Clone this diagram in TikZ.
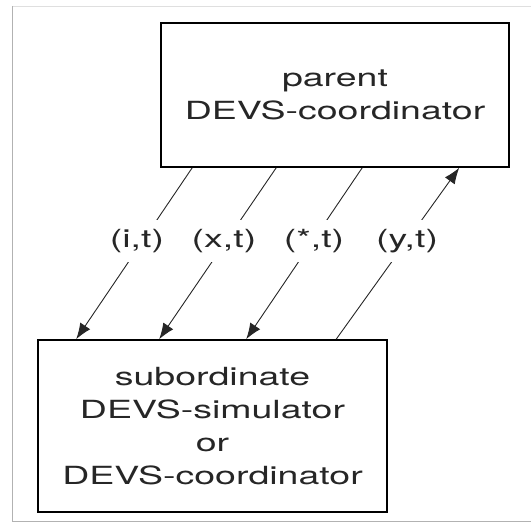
\documentclass[tikz,border=0pt]{standalone}
\usepackage{fontspec}
\newfontfamily\widefont[FakeStretch=1.5]{TeX Gyre Heros}
\usetikzlibrary{arrows.meta}
\definecolor{ink}{HTML}{262626}
\tikzset{
  boxnode/.style={draw=black, line width=1.6pt, rectangle, align=center, text=ink,
    font=\widefont\fontsize{25}{33}\selectfont, inner sep=0pt},
  msg/.style={fill=white, text=ink, inner xsep=1pt, inner ysep=9pt,
    font=\widefont\fontsize{25}{28}\selectfont},
  conn/.style={draw=ink, line width=0.9pt, -{Latex[length=16pt,width=12pt]}},
}
\begin{document}
\begin{tikzpicture}[x=1pt,y=-1pt]
\useasboundingbox (0,0) rectangle (531,527);
% frame
\draw[gray!25, line width=0.8pt] (12,6) -- (531,6);
\draw[gray!60, line width=1pt] (12,6) -- (12,521) -- (531,521);
% boxes
\node[boxnode, minimum width=348pt, minimum height=144pt] (parent) at (335,95)
  {parent\\DEVS-coordinator};
\node[boxnode, minimum width=349pt, minimum height=172pt] (sub) at (212.5,426)
  {subordinate\\DEVS-simulator\\or\\DEVS-coordinator};
% connector end points
\coordinate (p1) at ([xshift=32pt]parent.south west);
\coordinate (p2) at ([xshift=116pt]parent.south west);
\coordinate (p3) at ([xshift=202pt]parent.south west);
\coordinate (p4) at ([xshift=299pt]parent.south west);
\coordinate (s1) at ([xshift=39pt]sub.north west);
\coordinate (s2) at ([xshift=122pt]sub.north west);
\coordinate (s3) at ([xshift=209pt]sub.north west);
\coordinate (s4) at ([xshift=299pt]sub.north west);
\draw[conn] (p1) -- (s1);
\draw[conn] (p2) -- (s2);
\draw[conn] (p3) -- (s3);
\draw[conn] (s4) -- (p4);
% labels
\node[msg] (li) at (137,241) {(i,t)};
\node[msg] (lx) at (224,241) {(x,t)};
\node[msg] (ls) at (314,241) {(*,t)};
\node[msg] (ly) at (407,241) {(y,t)};
\end{tikzpicture}
\end{document}
